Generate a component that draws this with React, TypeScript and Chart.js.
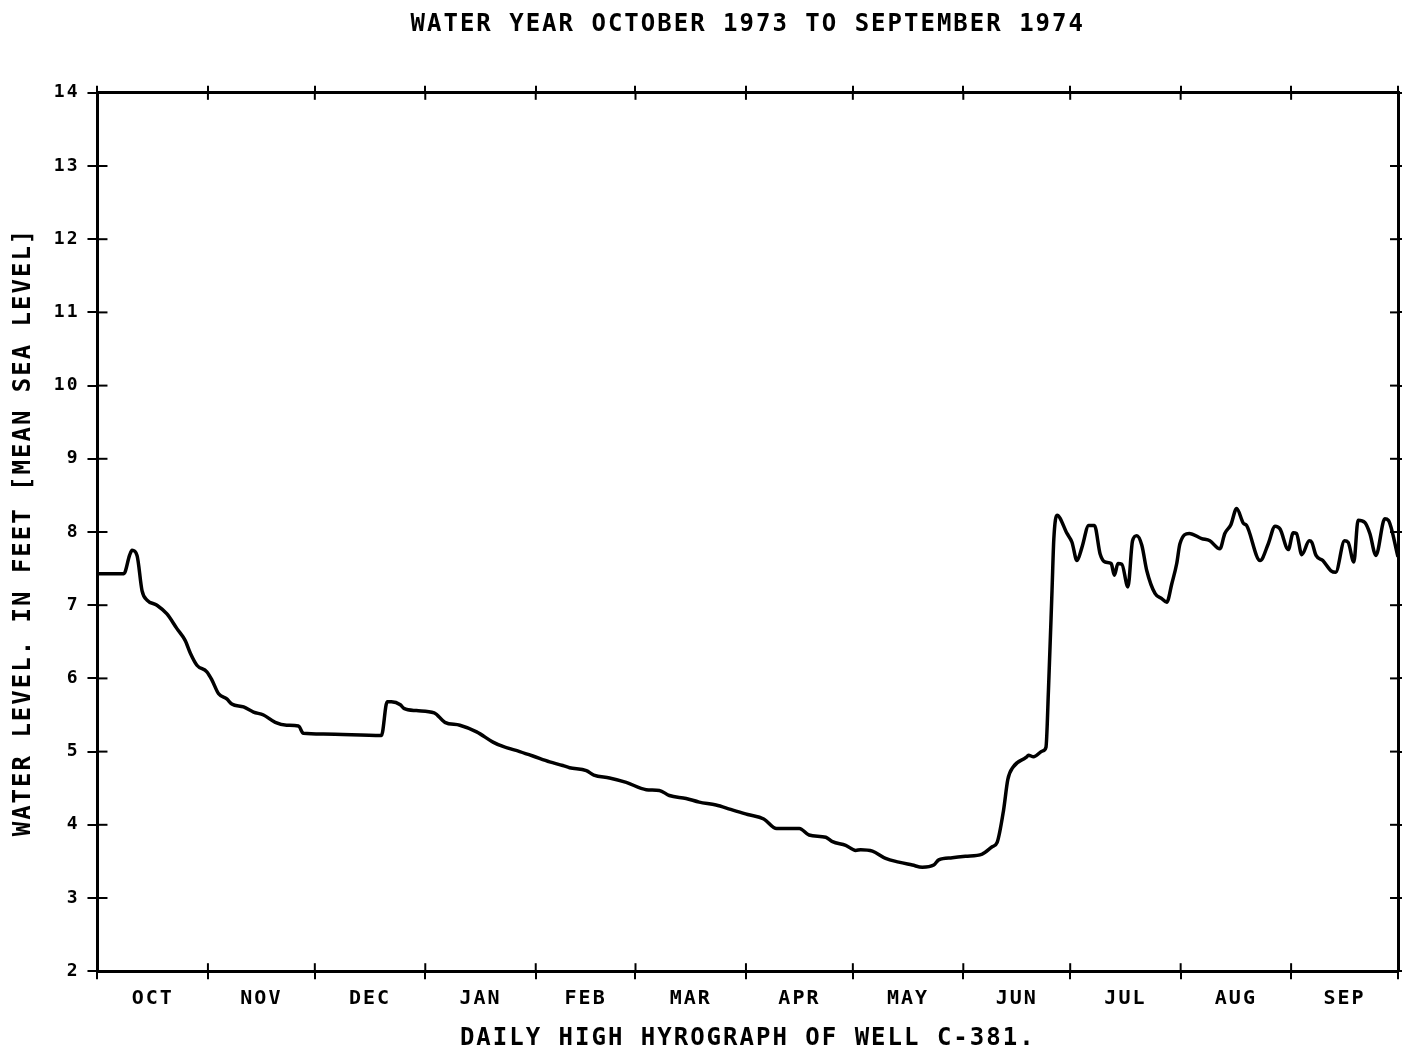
import { useEffect, useRef } from "react";
import { Chart, registerables } from "chart.js";

Chart.register(...registerables);

// Month names shown under the axis and the day-of-water-year on which each month starts
const monthLabels = ["OCT", "NOV", "DEC", "JAN", "FEB", "MAR", "APR", "MAY", "JUN", "JUL", "AUG", "SEP"];
const monthStartDays = [0, 31, 61, 92, 123, 151, 182, 212, 243, 273, 304, 335, 365];

// Water level axis range (feet above mean sea level)
const levelMin = 2;
const levelMax = 14;

// Daily high water level of well C-381, days counted from 1 October 1973
const dayOfYear = [
  0, 7.4, 9.0, 9.7, 11.1, 12.5, 13.9, 16.7, 19.5, 22.3, 24.6, 26.1, 27.9, 30.7, 32.1, 34.0,
  36.3, 37.7, 41.0, 43.8, 46.6, 49.9, 53.1, 56.4, 57.8, 63.4, 79.7, 81.3, 82.5, 85.0, 86.0,
  89.5, 94.5, 97.5, 101.7, 106.4, 111.0, 113.8, 118.5, 122.2, 126.9, 130.6, 132.5, 137.2,
  139.3, 143.7, 148.4, 154.0, 157.7, 160.5, 165.2, 168.9, 173.6, 177.7, 182.5, 187.0, 190.6,
  197.0, 199.7, 204.4, 206.3, 210.0, 212.8, 214.2, 217.5, 221.2, 224.9, 228.7, 231.5, 234.7,
  236.1, 239.9, 243.6, 248.3, 251.1, 252.5, 254.3, 255.5, 257.0, 260.6, 261.3, 262.7, 265.3,
  266.2, 266.9, 267.9, 268.4, 269.3, 272.1, 273.5, 274.9, 276.3, 278.2, 279.8, 281.4, 282.8,
  284.5, 285.4, 286.4, 287.5, 289.2, 290.5, 291.7, 293.1, 294.5, 296.8, 298.7, 300.1, 301.5,
  302.9, 303.8, 306.4, 309.9, 312.2, 315.0, 316.4, 318.1, 319.7, 321.6, 322.5, 326.3, 328.6,
  330.5, 331.9, 334.2, 335.6, 336.5, 338.0, 340.1, 340.8, 342.0, 343.9, 346.2, 347.5, 350.0,
  351.0, 352.6, 353.8, 355.7, 357.1, 358.8, 361.3, 362.3, 365,
];
const waterLevel = [
  7.43, 7.43, 7.68, 7.75, 7.68, 7.2, 7.07, 7.0, 6.88, 6.68, 6.52, 6.34, 6.18, 6.09, 5.98, 5.79,
  5.72, 5.65, 5.61, 5.54, 5.5, 5.4, 5.36, 5.35, 5.25, 5.24, 5.22, 5.68, 5.68, 5.64, 5.59,
  5.56, 5.53, 5.4, 5.36, 5.27, 5.13, 5.07, 5.0, 4.94, 4.86, 4.81, 4.78, 4.74,
  4.68, 4.64, 4.58, 4.48, 4.47, 4.4, 4.36, 4.31, 4.27, 4.21, 4.14, 4.08, 3.95,
  3.95, 3.86, 3.83, 3.77, 3.72, 3.65, 3.66, 3.64, 3.54, 3.49, 3.45, 3.42, 3.45,
  3.52, 3.55, 3.57, 3.6, 3.7, 3.76, 4.2, 4.62, 4.79, 4.92, 4.95, 4.93, 5.01,
  5.06, 5.84, 7.2, 7.9, 8.23, 7.98, 7.86, 7.61, 7.79, 8.09, 8.09, 7.7, 7.59,
  7.57, 7.41, 7.57, 7.56, 7.25, 7.88, 7.95, 7.82, 7.47, 7.16, 7.09, 7.04, 7.29,
  7.57, 7.84, 7.98, 7.91, 7.88, 7.77, 7.98, 8.1, 8.32, 8.12, 8.09, 7.61, 7.84,
  8.08, 8.04, 7.76, 7.99, 7.98, 7.69, 7.88, 7.86, 7.68, 7.61, 7.47, 7.45, 7.88,
  7.86, 7.59, 8.16, 8.13, 7.98, 7.68, 8.18, 8.16, 7.66,
];

const FONT = "'DejaVu Sans Mono', 'Liberation Mono', monospace";
const INK = "#000";

// Label positions sit halfway between month boundaries
const monthMidDays = monthLabels.map((_, i) => (monthStartDays[i] + monthStartDays[i + 1]) / 2);
const isMonthStart = (v: number) => monthStartDays.includes(v);

const monthTicks = (scale: any) => {
  scale.ticks = [...monthStartDays, ...monthMidDays]
    .sort((a, b) => a - b)
    .map((value) => ({ value }));
};

const monthGridColor = (c: any) =>
  c.tick && isMonthStart(c.tick.value) ? INK : "rgba(0,0,0,0)";

// Evenly spaced lettering in the style of a pen plotter
const plotterLettering = {
  id: "plotterLettering",
  beforeUpdate(chart: any) {
    chart.ctx.letterSpacing = "2px";
  },
  beforeDraw(chart: any) {
    chart.ctx.letterSpacing = "2px";
  },
};

// Tick marks that continue inside the frame
const innerTicks = {
  id: "innerTicks",
  afterDatasetsDraw(chart: any) {
    const { ctx, chartArea: a, scales } = chart;
    ctx.save();
    ctx.strokeStyle = INK;
    ctx.lineWidth = 2;
    const seg = (x1: number, y1: number, x2: number, y2: number) => {
      ctx.beginPath();
      ctx.moveTo(x1, y1);
      ctx.lineTo(x2, y2);
      ctx.stroke();
    };
    for (const d of monthStartDays) {
      const px = scales.x.getPixelForValue(d);
      seg(px, a.bottom, px, a.bottom - 8);
      seg(px, a.top, px, a.top + 7);
    }
    for (const t of scales.y.ticks) {
      const py = scales.y.getPixelForValue(t.value);
      seg(a.left, py, a.left + 10, py);
      seg(a.right, py, a.right - 8, py);
    }
    ctx.restore();
  },
};

export default function App() {
  const canvasRef = useRef<HTMLCanvasElement | null>(null);

  useEffect(() => {
    if (!canvasRef.current) return;
    const points = dayOfYear.map((x, i) => ({ x, y: waterLevel[i] }));

    const chart = new Chart(canvasRef.current, {
      type: "line",
      data: {
        datasets: [
          {
            data: points,
            borderColor: INK,
            borderWidth: 3.5,
            pointRadius: 0,
            fill: false,
            cubicInterpolationMode: "monotone",
          },
        ],
      },
      plugins: [plotterLettering, innerTicks],
      options: {
        animation: false,
        responsive: false,
        layout: { padding: { left: 5, right: 0, top: 0, bottom: 1 } },
        plugins: {
          legend: { display: false },
          tooltip: { enabled: false },
          title: {
            display: true,
            fullSize: false,
            text: "WATER YEAR OCTOBER 1973 TO SEPTEMBER 1974",
            color: INK,
            font: { family: FONT, size: 24, weight: "bold" },
            padding: { top: 10, bottom: 47 },
          },
        },
        scales: {
          x: {
            type: "linear",
            position: "bottom",
            min: 0,
            max: 365,
            afterBuildTicks: monthTicks,
            ticks: {
              autoSkip: false,
              maxRotation: 0,
              padding: 8,
              color: INK,
              font: { family: FONT, size: 20, weight: "bold" },
              callback: (v: any) => {
                const i = monthMidDays.indexOf(Number(v));
                return i >= 0 ? monthLabels[i] : "";
              },
            },
            grid: {
              drawOnChartArea: false,
              tickLength: 8,
              lineWidth: 2,
              color: monthGridColor,
            },
            border: { display: true, color: INK, width: 3 },
            title: {
              display: true,
              text: "DAILY HIGH HYROGRAPH OF WELL C-381.",
              color: INK,
              font: { family: FONT, size: 24, weight: "bold" },
              padding: { top: 5, bottom: 0 },
            },
          },
          xTop: {
            type: "linear",
            position: "top",
            min: 0,
            max: 365,
            afterBuildTicks: monthTicks,
            ticks: { display: false, autoSkip: false },
            grid: {
              drawOnChartArea: false,
              tickLength: 7,
              lineWidth: 2,
              color: monthGridColor,
            },
            border: { display: true, color: INK, width: 3 },
          },
          y: {
            type: "linear",
            position: "left",
            min: levelMin,
            max: levelMax,
            ticks: {
              stepSize: 1,
              padding: 8,
              color: INK,
              font: { family: FONT, size: 18, weight: "bold" },
            },
            grid: { drawOnChartArea: false, tickLength: 10, lineWidth: 2, color: INK },
            border: { display: true, color: INK, width: 3 },
            title: {
              display: true,
              text: "WATER LEVEL. IN FEET [MEAN SEA LEVEL]",
              color: INK,
              font: { family: FONT, size: 24, weight: "bold" },
              padding: { top: 4, bottom: 8 },
            },
          },
          yRight: {
            type: "linear",
            position: "right",
            min: levelMin,
            max: levelMax,
            ticks: { display: false, stepSize: 1 },
            grid: { drawOnChartArea: false, tickLength: 4, lineWidth: 2, color: INK },
            border: { display: true, color: INK, width: 3 },
          },
        },
      },
    } as any);

    return () => chart.destroy();
  }, []);

  return (
    <canvas
      ref={canvasRef}
      width={1406}
      height={1054}
      style={{ position: "fixed", left: 0, top: 0, display: "block", background: "#fff" }}
    />
  );
}
